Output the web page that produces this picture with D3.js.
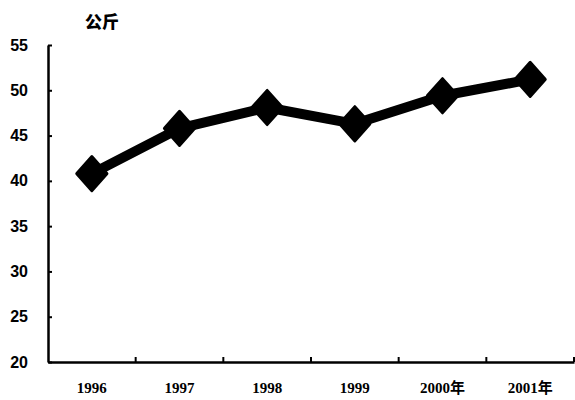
<!DOCTYPE html>
<html lang="zh">
<head>
<meta charset="UTF-8">
<title>公斤</title>
<style>
    body { margin: 0; background: #fff; }
    text { font-family: "Liberation Serif", "Noto Sans CJK SC", serif; font-weight: bold; fill: #000; }
</style>
</head>
<body>
<script src="https://cdnjs.cloudflare.com/ajax/libs/d3/7.8.5/d3.min.js"></script>
<script>
    const width = 575;
    const height = 400;

    const years = ['1996', '1997', '1998', '1999', '2000年', '2001年'];
    const values = [40.8, 45.8, 48.1, 46.3, 49.4, 51.2];
    const yTicks = [20, 25, 30, 35, 40, 45, 50, 55];
    const unit = '公斤';

    const margin = { left: 48, right: 1, top: 45, bottom: 38 };

    const svg = d3.select('body').append('svg')
        .attr('width', width)
        .attr('height', height);

    const x = d3.scaleBand()
        .domain(years)
        .range([margin.left, width - margin.right]);

    const y = d3.scaleLinear()
        .domain([20, 55])
        .range([height - margin.bottom, margin.top]);

    // y axis
    const yAxis = svg.append('g')
        .attr('transform', `translate(${margin.left},0)`)
        .call(d3.axisLeft(y).tickValues(yTicks).tickSizeInner(-4).tickSizeOuter(0).tickPadding(20));
    yAxis.select('.domain').attr('stroke-width', 2.5);
    yAxis.selectAll('.tick line').attr('stroke-width', 2);
    yAxis.selectAll('text')
        .style('font-size', '16px')
        .style('font-family', '"Liberation Sans Narrow", "Liberation Sans", sans-serif');

    // x axis, ticks on band edges
    const xAxis = svg.append('g')
        .attr('transform', `translate(0,${y(20)})`)
        .call(d3.axisBottom(x).tickSize(0).tickPadding(20));
    xAxis.select('.domain').attr('stroke-width', 2.5);
    xAxis.selectAll('text').style('font-size', '15px');
    xAxis.selectAll('.edge')
        .data(years)
        .enter().append('line')
        .attr('x1', d => x(d) + x.bandwidth())
        .attr('x2', d => x(d) + x.bandwidth())
        .attr('y1', 0)
        .attr('y2', -5)
        .attr('stroke', '#000')
        .attr('stroke-width', 2);

    svg.append('text')
        .attr('x', 102)
        .attr('y', 28)
        .attr('text-anchor', 'middle')
        .style('font-size', '17px')
        .style('font-family', '"Noto Sans CJK SC", sans-serif')
        .style('font-weight', '900')
        .text(unit);

    const line = d3.line()
        .x((d, i) => x(years[i]) + x.bandwidth() / 2)
        .y(d => y(d));

    svg.append('path')
        .datum(values)
        .attr('fill', 'none')
        .attr('stroke', '#000')
        .attr('stroke-width', 10)
        .attr('stroke-linejoin', 'round')
        .attr('d', line);

    svg.selectAll('.marker')
        .data(values)
        .enter().append('path')
        .attr('class', 'marker')
        .attr('d', d3.symbol().type(d3.symbolDiamond2).size(580))
        .attr('transform', (d, i) => `translate(${x(years[i]) + x.bandwidth() / 2},${y(d)}) scale(1,1.12)`)
        .attr('fill', '#000')
        .attr('stroke', '#000')
        .attr('stroke-width', 3)
        .attr('stroke-linejoin', 'round');
</script>
</body>
</html>
